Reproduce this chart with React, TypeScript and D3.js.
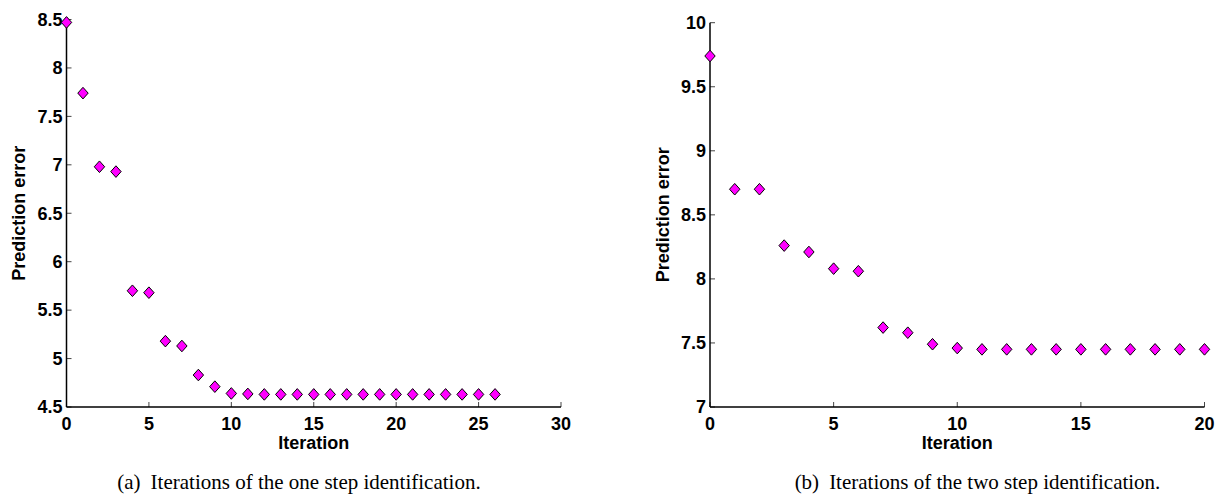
import React from 'react';
import * as d3 from 'd3';

// (a) one step identification
const iterA = d3.range(0, 27);
const errA = [
  8.47, 7.74, 6.98, 6.93, 5.7, 5.68, 5.18, 5.13, 4.83, 4.71,
  4.64, 4.635, 4.63, 4.63, 4.63, 4.63, 4.63, 4.63, 4.63, 4.63,
  4.63, 4.63, 4.63, 4.63, 4.63, 4.63, 4.63,
];
const xTicksA = [0, 5, 10, 15, 20, 25, 30];
const yTicksA = [4.5, 5, 5.5, 6, 6.5, 7, 7.5, 8, 8.5];

// (b) two step identification
const iterB = d3.range(0, 21);
const errB = [
  9.74, 8.7, 8.7, 8.26, 8.21, 8.08, 8.06, 7.62, 7.58, 7.49,
  7.46, 7.45, 7.45, 7.45, 7.45, 7.45, 7.45, 7.45, 7.45, 7.45, 7.45,
];
const xTicksB = [0, 5, 10, 15, 20];
const yTicksB = [7, 7.5, 8, 8.5, 9, 9.5, 10];

const captions = [
  ['(a)', 'Iterations of the one step identification.'],
  ['(b)', 'Iterations of the two step identification.'],
];

const sans = 'Liberation Sans, Arial, sans-serif';
const serif = 'Liberation Serif, Times New Roman, serif';

type PanelProps = {
  xs: number[];
  ys: number[];
  xDomain: [number, number];
  yDomain: [number, number];
  xTicks: number[];
  yTicks: number[];
  left: number;
  right: number;
  top: number;
  bottom: number;
  yLabelX: number;
  caption: string[];
  captionX: number;
};

// matlab style 'd' marker
const diamond = (w: number, h: number) => `M0,${-h}L${w},0L0,${h}L${-w},0Z`;

const Panel = (p: PanelProps) => {
  const x = d3.scaleLinear().domain(p.xDomain).range([p.left, p.right]);
  const y = d3.scaleLinear().domain(p.yDomain).range([p.bottom, p.top]);
  const midY = (p.top + p.bottom) / 2;
  const midX = (p.left + p.right) / 2;
  return (
    <g>
      {p.yTicks.map(t => (
        <g key={'y' + t}>
          <line x1={p.left} x2={p.left + 5} y1={y(t)} y2={y(t)} stroke="#444" strokeWidth={1} />
          <text x={p.left - 4} y={y(t)} dy="0.35em" textAnchor="end"
            fontFamily={sans} fontWeight="bold" fontSize={18}>{t}</text>
        </g>
      ))}
      {p.xTicks.map(t => (
        <g key={'x' + t}>
          <line x1={x(t)} x2={x(t)} y1={p.bottom} y2={p.bottom - 5} stroke="#444" strokeWidth={1} />
          <text x={x(t)} y={p.bottom + 23} textAnchor="middle"
            fontFamily={sans} fontWeight="bold" fontSize={18}>{t}</text>
        </g>
      ))}
      <line x1={p.left} x2={p.left} y1={p.top} y2={p.bottom} stroke="#000" strokeWidth={1.5} />
      <line x1={p.left} x2={p.right} y1={p.bottom} y2={p.bottom} stroke="#000" strokeWidth={1.5} />
      {p.xs.map((v, i) => (
        <path key={i} d={diamond(5.2, 5.8)} transform={`translate(${x(v)},${y(p.ys[i])})`}
          fill="#ff00ff" stroke="#000" strokeWidth={1} />
      ))}
      <text x={midX} y={p.bottom + 42} textAnchor="middle"
        fontFamily={sans} fontWeight="bold" fontSize={18}>Iteration</text>
      <text transform={`translate(${p.yLabelX},${midY}) rotate(-90)`} textAnchor="middle" dy="0.35em"
        fontFamily={sans} fontWeight="bold" fontSize={18}>Prediction error</text>
      <text x={p.captionX} y={489} textAnchor="middle" fontFamily={serif} fontSize={21}>
        <tspan>{p.caption[0]}</tspan>
        <tspan dx={10}>{p.caption[1]}</tspan>
      </text>
    </g>
  );
};

export default function App() {
  return (
    <svg width={1221} height={497} style={{ position: 'absolute', left: 0, top: 0, background: '#fff' }}>
      <Panel xs={iterA} ys={errA} xDomain={[0, 30]} yDomain={[4.5, 8.5]}
        xTicks={xTicksA} yTicks={yTicksA} left={66.5} right={561} top={19.5} bottom={407}
        yLabelX={19} caption={captions[0]} captionX={299} />
      <Panel xs={iterB} ys={errB} xDomain={[0, 20]} yDomain={[7, 10]}
        xTicks={xTicksB} yTicks={yTicksB} left={710} right={1204.5} top={22.7} bottom={407}
        yLabelX={663} caption={captions[1]} captionX={977.5} />
    </svg>
  );
}
